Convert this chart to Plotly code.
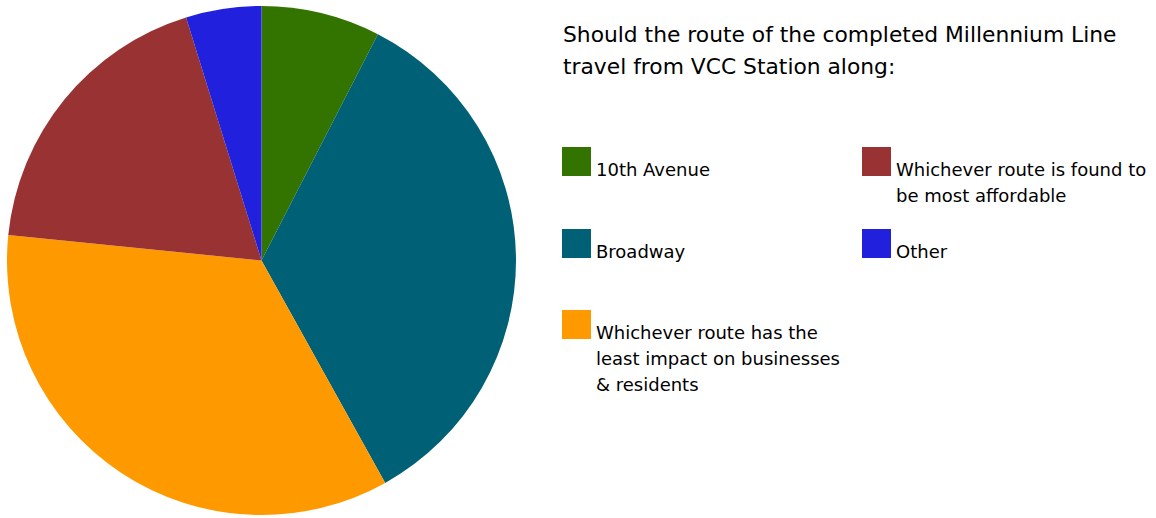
import plotly.graph_objects as go

# ---- data ----
labels = [
    "10th Avenue",
    "Broadway",
    "Whichever route has the<br>least impact on businesses<br>& residents",
    "Whichever route is found to<br>be most affordable",
    "Other",
]
values = [7.56, 34.36, 34.67, 18.62, 4.79]
colors = ["#337300", "#006075", "#ff9900", "#993333", "#2020dd"]
title_lines = ["Should the route of the completed Millennium Line", "travel from VCC Station along:"]

W, H = 1156, 518
FONT = "DejaVu Sans, Liberation Sans, Arial, sans-serif"


def px(x):
    return x / W


def py(y):
    return 1 - y / H


fig = go.Figure()
fig.add_trace(go.Pie(
    labels=labels,
    values=values,
    marker=dict(colors=colors, line=dict(width=0)),
    sort=False,
    direction="clockwise",
    rotation=0,
    textinfo="none",
    hoverinfo="label+percent",
    showlegend=False,
    domain=dict(x=[px(7), px(516)], y=[py(515.5), py(5.5)]),
))

annotations = []
shapes = []

# title (line by line)
title_baselines = [43.5, 75]
for line, b in zip(title_lines, title_baselines):
    annotations.append(dict(
        x=px(561), y=py(b + 6), xref="paper", yref="paper",
        xanchor="left", yanchor="bottom", text=line, showarrow=False,
        font=dict(family=FONT, size=21.8, color="#000000"), align="left",
    ))

# legend layout: column-major in two columns
legend_pos = [(562, 147), (562, 229), (562, 310), (862, 147), (862, 229)]
SQ = 29
LINE = 26.3
for lab, col, (lx, ly) in zip(labels, colors, legend_pos):
    shapes.append(dict(
        type="rect", xref="paper", yref="paper",
        x0=px(lx), x1=px(lx + SQ), y0=py(ly + SQ), y1=py(ly),
        fillcolor=col, line=dict(width=0),
    ))
    for i, line in enumerate(lab.split("<br>")):
        base = ly + 29.5 + i * LINE
        annotations.append(dict(
            x=px(lx + 32), y=py(base + 5), xref="paper", yref="paper",
            xanchor="left", yanchor="bottom", text=line, showarrow=False,
            font=dict(family=FONT, size=18, color="#000000"), align="left",
        ))

fig.update_layout(
    width=W, height=H,
    margin=dict(l=0, r=0, t=0, b=0),
    paper_bgcolor="#ffffff",
    plot_bgcolor="#ffffff",
    annotations=annotations,
    shapes=shapes,
    showlegend=False,
)

fig.write_html("out.html", config={"displayModeBar": False},
               post_script="document.body.style.margin='0';")
